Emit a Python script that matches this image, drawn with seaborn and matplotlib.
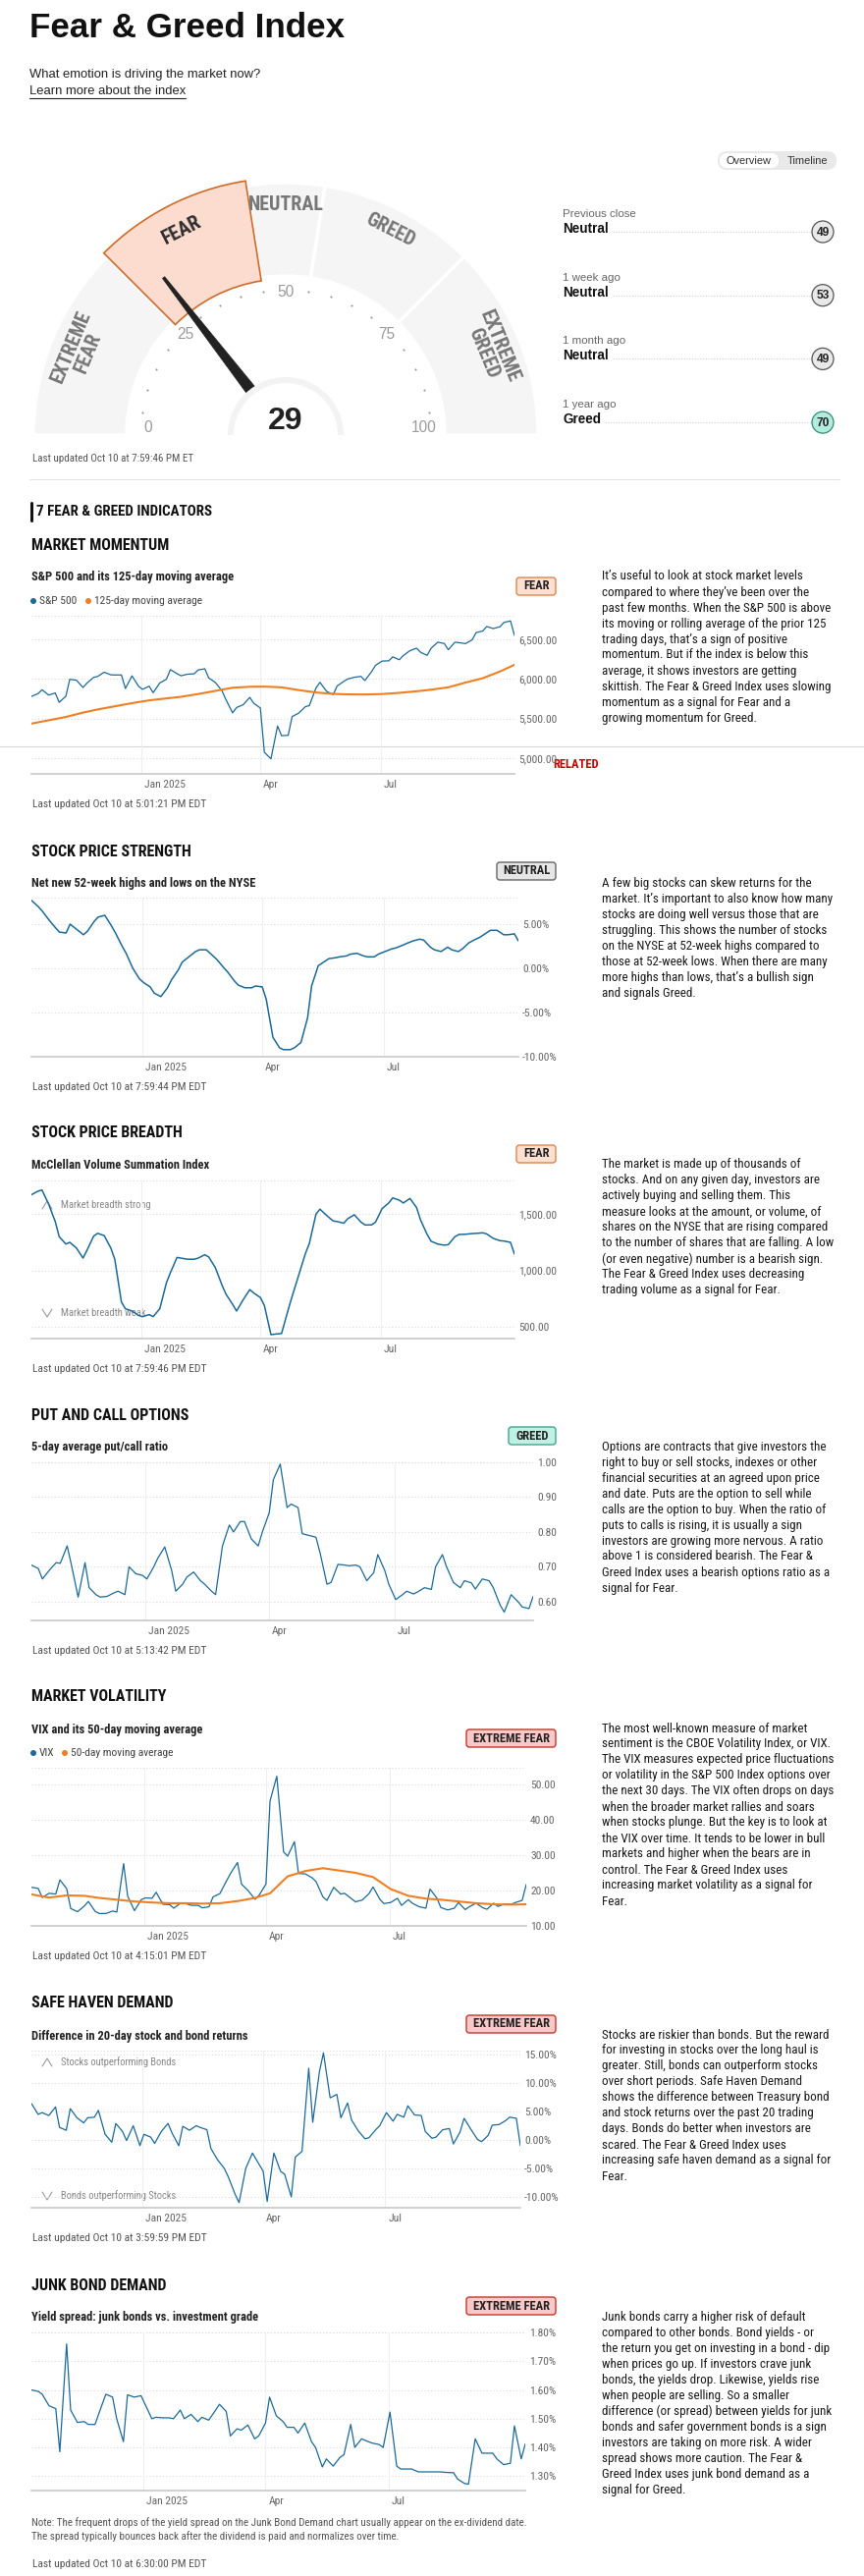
import matplotlib
matplotlib.use("Agg")
import matplotlib.pyplot as plt
import matplotlib.font_manager as fm
from matplotlib.patches import Wedge, Circle, Polygon, FancyBboxPatch
from matplotlib.transforms import ScaledTranslation
import numpy as np
import pandas as pd
import seaborn as sns

# ---------------- data ----------------
# one sample every third trading day, Oct 10 2024 .. Oct 10 2025 (88 points)
days = pd.date_range("2024-10-10", "2025-10-10", freq="3B")
ma_days = days[::3]

sp500 = [5780, 5815, 5864, 5797, 5823, 5705,
         5782, 5996, 5985, 5893, 5949, 6021, 6032,
         6086, 6053, 6051, 6051, 5880, 6040, 5907,
         5869, 5909, 5827, 5950, 5997, 6119, 6068, 6041,
         6061, 6066, 6115, 6129, 6013, 5956,
         5850, 5739, 5572, 5639, 5675, 5768, 5693,
         5633, 5074, 4990, 5406, 5283, 5288, 5525, 5569,
         5650, 5664, 5886, 5958, 5845, 5802, 5912,
         5970, 6000, 6022, 6033, 5981, 6092, 6173,
         6227, 6230, 6280, 6244, 6297, 6358, 6390, 6339,
         6299, 6389, 6466, 6449, 6370, 6465, 6460,
         6448, 6495, 6587, 6607, 6664, 6638, 6661,
         6715, 6735, 6552]
sp500_ma = [5436, 5478, 5520, 5575, 5615, 5655, 5695, 5730, 5755, 5775,
            5810, 5850, 5890, 5902, 5904, 5895, 5860, 5830, 5812, 5806,
            5804, 5810, 5825, 5845, 5865, 5895, 5955, 6010, 6095, 6180]

strength = [7.7, 7.0, 6.5, 5.5, 4.6, 4.1,
            4.0, 5.0, 4.4, 3.8, 4.2, 5.3, 5.8,
            6.0, 4.8, 4.0, 2.5, 1.7, 0.0, -1.2,
            -1.6, -2.1, -2.8, -3.2, -2.2, -1.3, -0.2, 0.7,
            1.3, 1.9, 2.1, 2.1, 1.7, 1.0,
            0.1, -0.4, -1.4, -1.9, -2.2, -2.2, -2.0,
            -2.1, -3.5, -7.8, -9.0, -9.2, -9.2, -9.0, -8.4,
            -5.6, -2.0, 0.3, 0.6, 1.1, 1.2, 1.3,
            1.4, 1.6, 1.7, 1.4, 1.3, 1.3, 1.6,
            1.9, 2.2, 2.3, 2.6, 2.8, 3.1, 3.3, 3.2,
            2.4, 2.1, 1.9, 2.4, 2.1, 1.9, 2.2,
            2.9, 3.3, 3.5, 4.0, 4.3, 4.3, 3.8,
            3.8, 3.9, 3.1]

breadth = [1673, 1705, 1715, 1590, 1435, 1300,
           1235, 1250, 1200, 1110, 1180, 1305, 1330,
           1310, 1200, 1100, 720, 660, 640, 600,
           590, 608, 590, 660, 890, 980, 1116, 1110,
           1100, 1100, 1110, 1140, 1120, 1025,
           870, 790, 700, 640, 740, 830, 800,
           760, 690, 430, 437, 440, 650, 770, 960,
           1150, 1240, 1500, 1545, 1490, 1440, 1435,
           1420, 1460, 1495, 1430, 1405, 1405, 1430,
           1550, 1600, 1645, 1625, 1600, 1640, 1560, 1450,
           1320, 1260, 1235, 1225, 1230, 1300, 1320,
           1322, 1328, 1330, 1335, 1325, 1285, 1265,
           1262, 1250, 1145]

put_call = [0.705, 0.695, 0.665, 0.690, 0.712, 0.710,
            0.760, 0.707, 0.613, 0.712, 0.640, 0.620, 0.613,
            0.615, 0.625, 0.630, 0.620, 0.700, 0.680, 0.675,
            0.665, 0.700, 0.725, 0.757, 0.690, 0.630, 0.650, 0.670,
            0.685, 0.660, 0.650, 0.630, 0.620, 0.760,
            0.820, 0.800, 0.830, 0.830, 0.780, 0.760, 0.800,
            0.855, 0.950, 0.995, 0.870, 0.880, 0.870, 0.795, 0.790,
            0.785, 0.740, 0.650, 0.655, 0.707, 0.705, 0.703,
            0.705, 0.700, 0.660, 0.683, 0.735, 0.690, 0.650,
            0.606, 0.620, 0.630, 0.622, 0.628, 0.640, 0.635, 0.700,
            0.735, 0.700, 0.655, 0.640, 0.660, 0.654, 0.636,
            0.665, 0.660, 0.640, 0.590, 0.570, 0.620, 0.600,
            0.585, 0.580, 0.615]

vix = [20.9, 20.6, 18.0, 19.2, 19.0, 23.0,
       20.5, 14.9, 14.0, 15.6, 16.9, 14.1, 13.5,
       13.5, 14.2, 13.9, 27.6, 18.4, 14.3, 17.4,
       17.9, 17.8, 19.5, 16.1, 16.0, 15.0, 16.4, 16.4,
       15.8, 15.8, 15.1, 15.4, 18.2, 19.1,
       22.8, 24.9, 27.9, 21.8, 19.9, 17.5, 18.7,
       21.8, 45.3, 52.3, 30.9, 29.7, 33.8, 24.8, 24.7,
       23.6, 22.5, 18.2, 17.2, 20.9, 19.0, 19.2,
       17.7, 16.8, 17.3, 19.1, 21.0, 17.5, 16.3,
       16.6, 17.8, 15.8, 17.4, 16.4, 15.4, 15.0, 20.4,
       17.9, 15.2, 14.5, 15.0, 16.6, 14.6, 15.4,
       16.4, 15.1, 14.7, 16.4, 15.5, 16.2, 16.1,
       16.6, 17.2, 21.7]
vix_ma = [18.9, 18.0, 18.6, 18.5, 17.9, 17.4, 16.9, 16.6, 16.4, 16.4,
          16.3, 16.4, 17.0, 17.9, 19.2, 24.0, 25.5, 26.3, 25.6, 25.0,
          23.8, 20.4, 18.5, 17.7, 17.4, 16.9, 16.4, 16.1, 16.0, 16.1]

safe_haven = [6.4, 4.5, 4.8, 4.3, 5.8, 2.2,
              1.7, 5.5, 3.9, 3.0, 3.9, 4.0, 5.2,
              1.0, -0.4, 2.9, 1.5, -0.1, 2.5, -1.0,
              1.0, 0.5, -0.6, 1.5, 2.9, 1.2, -1.0, 2.4,
              1.7, 2.5, 2.2, 1.8, -1.5, -3.5,
              -5.0, -6.5, -9.5, -11.0, -5.0, -2.3, -3.5,
              -5.5, -10.8, -2.3, -5.5, -6.0, -10.0, -3.0, -2.0,
              12.6, 3.1, 12.0, 15.3, 7.4, 8.0, 3.9,
              6.5, 3.5, 1.6, 0.2, 0.4, 1.8, 2.5,
              4.8, 3.3, 4.5, 4.0, 6.0, 4.4, 4.3, 1.5,
              0.3, 0.5, 1.8, 2.0, -0.7, 1.4, 3.8,
              1.9, 0.1, -0.3, 0.8, 2.6, 2.7, 3.4,
              4.0, 3.8, -1.0]

junk_spread = [1.600, 1.595, 1.585, 1.545, 1.535, 1.385,
               1.760, 1.530, 1.487, 1.490, 1.480, 1.480, 1.520,
               1.585, 1.575, 1.500, 1.420, 1.583, 1.575, 1.580,
               1.550, 1.500, 1.505, 1.503, 1.503, 1.500, 1.530, 1.500,
               1.515, 1.490, 1.505, 1.495, 1.515, 1.550,
               1.525, 1.440, 1.465, 1.460, 1.478, 1.430, 1.440,
               1.485, 1.575, 1.510, 1.490, 1.470, 1.470, 1.450, 1.485,
               1.420, 1.400, 1.332, 1.360, 1.335, 1.365, 1.375,
               1.480, 1.400, 1.430, 1.420, 1.415, 1.410, 1.400,
               1.523, 1.335, 1.325, 1.325, 1.325, 1.315, 1.315, 1.315,
               1.315, 1.315, 1.313, 1.312, 1.290, 1.275, 1.272,
               1.430, 1.380, 1.380, 1.380, 1.360, 1.340, 1.345,
               1.475, 1.360, 1.412]

gauge_value = 29
zone_bounds = [0, 25, 45, 55, 75, 100]
zone_names = ["EXTREME\nFEAR", "FEAR", "NEUTRAL", "GREED", "EXTREME\nGREED"]
gauge_ticks = [0, 25, 50, 75, 100]

history_when = ["Previous close", "1 week ago", "1 month ago", "1 year ago"]
history_rating = ["Neutral", "Neutral", "Neutral", "Greed"]
history_value = [49, 53, 49, 70]

month_ticks = ["2025-01-01", "2025-04-01", "2025-07-01"]
month_labels = ["Jan 2025", "Apr", "Jul"]

momentum_text = [
    "It\u2019s useful to look at stock market levels",
    "compared to where they\u2019ve been over the",
    "past few months. When the S&P 500 is above",
    "its moving or rolling average of the prior 125",
    "trading days, that\u2019s a sign of positive",
    "momentum. But if the index is below this",
    "average, it shows investors are getting",
    "skittish. The Fear & Greed Index uses slowing",
    "momentum as a signal for Fear and a",
    "growing momentum for Greed."]
strength_text = [
    "A few big stocks can skew returns for the",
    "market. It\u2019s important to also know how many",
    "stocks are doing well versus those that are",
    "struggling. This shows the number of stocks",
    "on the NYSE at 52-week highs compared to",
    "those at 52-week lows. When there are many",
    "more highs than lows, that\u2019s a bullish sign",
    "and signals Greed."]
breadth_text = [
    "The market is made up of thousands of",
    "stocks. And on any given day, investors are",
    "actively buying and selling them. This",
    "measure looks at the amount, or volume, of",
    "shares on the NYSE that are rising compared",
    "to the number of shares that are falling. A low",
    "(or even negative) number is a bearish sign.",
    "The Fear & Greed Index uses decreasing",
    "trading volume as a signal for Fear."]
options_text = [
    "Options are contracts that give investors the",
    "right to buy or sell stocks, indexes or other",
    "financial securities at an agreed upon price",
    "and date. Puts are the option to sell while",
    "calls are the option to buy. When the ratio of",
    "puts to calls is rising, it is usually a sign",
    "investors are growing more nervous. A ratio",
    "above 1 is considered bearish. The Fear &",
    "Greed Index uses a bearish options ratio as a",
    "signal for Fear."]
volatility_text = [
    "The most well-known measure of market",
    "sentiment is the CBOE Volatility Index, or VIX.",
    "The VIX measures expected price fluctuations",
    "or volatility in the S&P 500 Index options over",
    "the next 30 days. The VIX often drops on days",
    "when the broader market rallies and soars",
    "when stocks plunge. But the key is to look at",
    "the VIX over time. It tends to be lower in bull",
    "markets and higher when the bears are in",
    "control. The Fear & Greed Index uses",
    "increasing market volatility as a signal for",
    "Fear."]
safe_text = [
    "Stocks are riskier than bonds. But the reward",
    "for investing in stocks over the long haul is",
    "greater. Still, bonds can outperform stocks",
    "over short periods. Safe Haven Demand",
    "shows the difference between Treasury bond",
    "and stock returns over the past 20 trading",
    "days. Bonds do better when investors are",
    "scared. The Fear & Greed Index uses",
    "increasing safe haven demand as a signal for",
    "Fear."]
junk_text = [
    "Junk bonds carry a higher risk of default",
    "compared to other bonds. Bond yields - or",
    "the return you get on investing in a bond - dip",
    "when prices go up. If investors crave junk",
    "bonds, the yields drop. Likewise, yields rise",
    "when people are selling. So a smaller",
    "difference (or spread) between yields for junk",
    "bonds and safer government bonds is a sign",
    "investors are taking on more risk. A wider",
    "spread shows more caution. The Fear &",
    "Greed Index uses junk bond demand as a",
    "signal for Greed."]
junk_note = [
    "Note: The frequent drops of the yield spread on the Junk Bond Demand chart usually appear on the ex-dividend date.",
    "The spread typically bounces back after the dividend is paid and normalizes over time."]

# ---------------- style ----------------
sns.set_style("white")
avail = {f.name for f in fm.fontManager.ttflist}


def pick(*names):
    for n in names:
        if n in avail:
            return n
    return "DejaVu Sans"


SANS = pick("Liberation Sans", "Arimo", "DejaVu Sans")
NARROW = pick("Liberation Sans Narrow", "Roboto Condensed", "Open Sans Condensed",
              "Noto Sans Condensed", "DejaVu Sans Condensed", "Liberation Sans")
NS = 1.0 if ("Narrow" in NARROW or "Condensed" in NARROW) else 0.88
plt.rcParams["font.family"] = [NARROW, "DejaVu Sans"]

BLUE = "#1b6a9a"
ORANGE = "#f07f23"
GREY = "#666666"

W, H = 880, 2623
fig = plt.figure(figsize=(W / 100, H / 100), dpi=100)
page = fig.add_axes([0, 0, 1, 1])
page.set_xlim(0, W)
page.set_ylim(H, 0)
page.axis("off")


def pt(px):
    return px * 0.72


def txt(x, y, s, px, color="#222222", weight="normal", family=None, **kw):
    kw.setdefault("va", "center")
    kw.setdefault("ha", "left")
    return page.text(x, y, s, fontsize=pt(px), color=color, fontweight=weight,
                     family=family or NARROW, **kw)


def px_axes(left, top, right, bottom):
    return fig.add_axes([left / W, 1 - bottom / H, (right - left) / W, (bottom - top) / H])


# ---------------- header ----------------
txt(30, 29, "Fear & Greed Index", 35, color="#111111", weight="bold", family=SANS)
txt(30, 76, "What emotion is driving the market now?", 13, family=SANS)
link = txt(30, 93, "Learn more about the index", 13, family=SANS)
rend = fig.canvas.get_renderer()
lw_px = link.get_window_extent(renderer=rend).width
page.plot([30, 30 + lw_px], [100, 100], color="#222222", lw=0.8)

# ---------------- gauge ----------------
gx = px_axes(0, 170, 570, 470)
gx.set_xlim(-291, 279)
gx.set_ylim(-27, 273)
gx.axis("off")


def ang(v):
    return 180 - v * 1.8


for i in range(5):
    lo, hi = zone_bounds[i], zone_bounds[i + 1]
    active = lo <= gauge_value < hi
    if active:
        gx.add_patch(Wedge((0, 0), 262, ang(hi), ang(lo), width=103, fc="#fddcd0",
                           ec="#cf6b28", lw=1.2, zorder=3))
    else:
        gx.add_patch(Wedge((0, 0), 257, ang(hi), ang(lo), width=95, fc="#f5f5f5",
                           ec="white", lw=2.5, zorder=2))
    a = ang((lo + hi) / 2)
    r_lab = 227 if "\n" in zone_names[i] else 234
    gx.text(r_lab * np.cos(np.radians(a)), r_lab * np.sin(np.radians(a)), zone_names[i],
            rotation=a - 90, rotation_mode="anchor", ha="center", va="center",
            multialignment="center", linespacing=0.92, fontsize=pt(20 * NS),
            fontweight="bold", family=NARROW,
            color="#2e2e2e" if active else "#777777", zorder=4)

for v in range(5, 100, 5):
    if v % 25 == 0:
        continue
    a = np.radians(ang(v))
    gx.scatter([148 * np.cos(a)], [148 * np.sin(a)], s=2.4, color="#9a9a9a", zorder=2.5, lw=0)
for v in gauge_ticks:
    a = np.radians(ang(v))
    x, y = 145 * np.cos(a), 145 * np.sin(a)
    if v in (0, 100):
        x, y = x * 0.97, 8
    gx.text(x, y, str(v), ha="center", va="center", fontsize=pt(15.5), color="#9b9b9b",
            family=SANS, zorder=2.5)

a = np.radians(ang(gauge_value))
u = np.array([np.cos(a), np.sin(a)])
n = np.array([-np.sin(a), np.cos(a)])
needle = [55 * u + 5.5 * n, 203 * u + 1.4 * n, 203 * u - 1.4 * n, 55 * u - 5.5 * n]
gx.add_patch(Polygon(needle, closed=True, fc="#222222", ec="#222222", lw=0.5, zorder=5))
gx.add_patch(Wedge((0, 0), 59, 0, 180, fc="#f3f3f3", ec="none", zorder=6))
gx.add_patch(Wedge((0, 0), 53, 0, 180, fc="white", ec="none", zorder=6))
gx.text(0, 14, str(gauge_value), ha="center", va="center", fontsize=pt(32),
        fontweight="bold", color="#222222", family=SANS, zorder=7)

txt(33, 467, "Last updated Oct 10 at 7:59:46 PM ET", 11 * NS, color="#555555")

# ---------------- history panel ----------------
page.add_patch(FancyBboxPatch((731, 154), 121, 19, boxstyle="round,pad=0,rounding_size=9.5",
                              fc="#e9e9e9", ec="none"))
page.add_patch(FancyBboxPatch((733, 156), 60, 15, boxstyle="round,pad=0,rounding_size=7.5",
                              fc="white", ec="none"))
txt(763, 164, "Overview", 11, color="#333333", ha="center", family=SANS)
txt(822, 164, "Timeline", 11, color="#333333", ha="center", family=SANS)

for i, (when, rating, val) in enumerate(zip(history_when, history_rating, history_value)):
    y0 = 218 + i * 64.7
    txt(573, y0, when, 11.5, color="#666666", family=SANS)
    t = txt(573, y0 + 15, rating, 13.5, color="#111111", weight="bold", family=SANS)
    w = t.get_window_extent(renderer=rend).width
    page.plot([573 + w + 4, 826], [y0 + 18, y0 + 18], ls=(0, (1, 1.5)), color="#cfcfcf", lw=0.8)
    greed = rating == "Greed"
    page.add_patch(Circle((838, y0 + 18), 11, fc="#b4ebdc" if greed else "#e9e9e9",
                          ec="#2f8f77" if greed else "#555555", lw=0.9))
    txt(838, y0 + 18.5, str(val), 12, color="#222222", weight="bold", ha="center", family=SANS)

page.plot([30, 855], [488, 488], color="#e3e3e3", lw=0.8)
page.plot([31.5, 31.5], [512, 530], color="#111111", lw=2.2)
txt(37, 521, "7 FEAR & GREED INDICATORS", 15 * NS, color="#111111", weight="bold")

# ---------------- indicator charts ----------------
BADGES = {"FEAR": (40, "#fde0d2", "#dd8550"),
          "NEUTRAL": (60, "#e6e6e6", "#666666"),
          "GREED": (48, "#bff0e2", "#3ea78c"),
          "EXTREME FEAR": (91, "#f9c9c9", "#c0392b")}


def money(v):
    return f"{v:,.2f}"


def pct(v):
    return f"{v:.2f}%"


def plain(v):
    return f"{v:.2f}"


sections = [
    dict(head="MARKET MOMENTUM", head_y=556, badge="FEAR", badge_y=597,
         title="S&P 500 and its 125-day moving average", title_y=588,
         legend=[("S&P 500", BLUE, 34), ("125-day moving average", ORANGE, 90)], legend_y=612,
         top=627, bottom=788, right=524, ylim=(4800, 6800), yticks=[5000, 5500, 6000, 6500],
         fmt=money, lines=[(days, sp500, BLUE, 0.9), (ma_days, sp500_ma, ORANGE, 1.5)],
         updated="Last updated Oct 10 at 5:01:21 PM EDT", updated_y=819,
         text=momentum_text, text_y=587, notes=[]),
    dict(head="STOCK PRICE STRENGTH", head_y=867, badge="NEUTRAL", badge_y=887,
         title="Net new 52-week highs and lows on the NYSE", title_y=900, legend=[],
         top=914, bottom=1076, right=528, ylim=(-10, 8), yticks=[-10, -5, 0, 5],
         fmt=pct, lines=[(days, strength, BLUE, 1.1)],
         updated="Last updated Oct 10 at 7:59:44 PM EDT", updated_y=1107,
         text=strength_text, text_y=899, notes=[]),
    dict(head="STOCK PRICE BREADTH", head_y=1153, badge="FEAR", badge_y=1175,
         title="McClellan Volume Summation Index", title_y=1187, legend=[],
         top=1202, bottom=1363, right=524, ylim=(395, 1800), yticks=[500, 1000, 1500],
         fmt=money, lines=[(days, breadth, BLUE, 1.1)],
         updated="Last updated Oct 10 at 7:59:46 PM EDT", updated_y=1394,
         text=breadth_text, text_y=1186,
         notes=[("up", 1227, "Market breadth strong"), ("down", 1337, "Market breadth weak")]),
    dict(head="PUT AND CALL OPTIONS", head_y=1442, badge="GREED", badge_y=1462,
         title="5-day average put/call ratio", title_y=1474, legend=[],
         top=1489, bottom=1650, right=543, ylim=(0.546, 1.0), yticks=[0.6, 0.7, 0.8, 0.9, 1.0],
         fmt=plain, lines=[(days, put_call, BLUE, 0.9)],
         updated="Last updated Oct 10 at 5:13:42 PM EDT", updated_y=1681,
         text=options_text, text_y=1473, notes=[]),
    dict(head="MARKET VOLATILITY", head_y=1728, badge="EXTREME FEAR", badge_y=1770,
         title="VIX and its 50-day moving average", title_y=1762,
         legend=[("VIX", BLUE, 34), ("50-day moving average", ORANGE, 66)], legend_y=1785,
         top=1800, bottom=1961, right=536, ylim=(10, 54.7), yticks=[10, 20, 30, 40, 50],
         fmt=plain, lines=[(days, vix, BLUE, 0.9), (ma_days, vix_ma, ORANGE, 1.5)],
         updated="Last updated Oct 10 at 4:15:01 PM EDT", updated_y=1992,
         text=volatility_text, text_y=1760, notes=[]),
    dict(head="SAFE HAVEN DEMAND", head_y=2039, badge="EXTREME FEAR", badge_y=2061,
         title="Difference in 20-day stock and bond returns", title_y=2073, legend=[],
         top=2088, bottom=2248, right=530, ylim=(-11.9, 15.7), yticks=[-10, -5, 0, 5, 10, 15],
         fmt=pct, lines=[(days, safe_haven, BLUE, 0.9)],
         updated="Last updated Oct 10 at 3:59:59 PM EDT", updated_y=2279,
         text=safe_text, text_y=2072,
         notes=[("up", 2100, "Stocks outperforming Bonds"), ("down", 2236, "Bonds outperforming Stocks")]),
    dict(head="JUNK BOND DEMAND", head_y=2327, badge="EXTREME FEAR", badge_y=2348,
         title="Yield spread: junk bonds vs. investment grade", title_y=2360, legend=[],
         top=2375, bottom=2536, right=535, ylim=(1.25, 1.80), yticks=[1.3, 1.4, 1.5, 1.6, 1.7, 1.8],
         fmt=pct, lines=[(days, junk_spread, BLUE, 0.9)],
         updated="Last updated Oct 10 at 6:30:00 PM EDT", updated_y=2611,
         text=junk_text, text_y=2359, notes=[]),
]

x_start, x_end = pd.Timestamp("2024-10-10"), pd.Timestamp("2025-10-10")
ticks = [pd.Timestamp(t) for t in month_ticks]

for sec in sections:
    txt(32, sec["head_y"], sec["head"], 16 * NS, color="#111111", weight="bold")
    bw, fc, ec = BADGES[sec["badge"]]
    page.add_patch(FancyBboxPatch((566 - bw, sec["badge_y"] - 9), bw, 18,
                                  boxstyle="round,pad=0,rounding_size=3", fc=fc, ec=ec, lw=1))
    txt(566 - bw / 2, sec["badge_y"], sec["badge"], 12.5 * NS, color="#222222",
        weight="bold", ha="center")
    txt(32, sec["title_y"], sec["title"], 12.5 * NS, color="#222222", weight="bold")
    for label, col, dx in sec["legend"]:
        page.add_patch(Circle((dx, sec["legend_y"]), 3, fc=col, ec="none"))
        txt(dx + 6, sec["legend_y"], label, 11.5 * NS, color="#444444")
    for k, line in enumerate(sec["text"]):
        txt(613, sec["text_y"] + 16 * k, line, 13 * NS, color="#1a1a1a")
    txt(33, sec["updated_y"], sec["updated"], 11.5 * NS, color="#555555")

    ax = px_axes(32, sec["top"], sec["right"], sec["bottom"])
    ax.set_facecolor("none")
    for d, vals, col, lw in sec["lines"]:
        m = min(len(d), len(vals))
        frame = pd.DataFrame({"date": d[:m], "value": vals[:m]})
        sns.lineplot(data=frame, x="date", y="value", ax=ax, color=col, linewidth=lw, zorder=3)
    ax.set_xlim(x_start, x_end)
    ax.set_ylim(*sec["ylim"])
    ax.set_xlabel("")
    ax.set_ylabel("")
    ax.set_yticks(sec["yticks"])
    ax.set_yticklabels([sec["fmt"](v) for v in sec["yticks"]])
    ax.yaxis.tick_right()
    ax.set_xticks(ticks)
    ax.set_xticklabels(month_labels)
    ax.tick_params(axis="both", length=0, labelsize=pt(11.5 * NS), labelcolor=GREY)
    ax.tick_params(axis="y", pad=3)
    ax.tick_params(axis="x", pad=4.5)
    for lab in ax.get_xticklabels():
        lab.set_horizontalalignment("left")
        lab.set_transform(lab.get_transform() + ScaledTranslation(0.03, 0, fig.dpi_scale_trans))
    for s in ["top", "left", "right"]:
        ax.spines[s].set_visible(False)
    ax.spines["bottom"].set_color("#c8c8c8")
    ax.spines["bottom"].set_linewidth(1.2)
    for v in sec["yticks"] + [sec["ylim"][1]]:
        if v > sec["ylim"][0] + 1e-9:
            ax.axhline(v, color="#dcdcdc", lw=0.8, ls=(0, (1, 2)), zorder=1)
    for t in ticks:
        ax.axvline(t, color="#efefef", lw=0.8, zorder=1)

    for kind, y, label in sec["notes"]:
        if kind == "up":
            page.plot([43, 48, 53], [y + 4, y - 4, y + 4], color="#999999", lw=0.8)
        else:
            page.plot([43, 48, 53], [y - 4, y + 4, y - 4], color="#999999", lw=0.8)
        txt(62, y, label, 10.5 * NS, color="#888888")

for k, line in enumerate(junk_note):
    txt(32, 2569 + 14 * k, line, 11 * NS, color="#555555")

# page overlay strip seen in the capture
page.plot([0, W], [760, 760], color="#d6d6d6", lw=0.8)
txt(563, 778, "RELATED", 12.5 * NS, color="#cc0000", weight="bold")

fig.savefig("out.png", dpi=100)
